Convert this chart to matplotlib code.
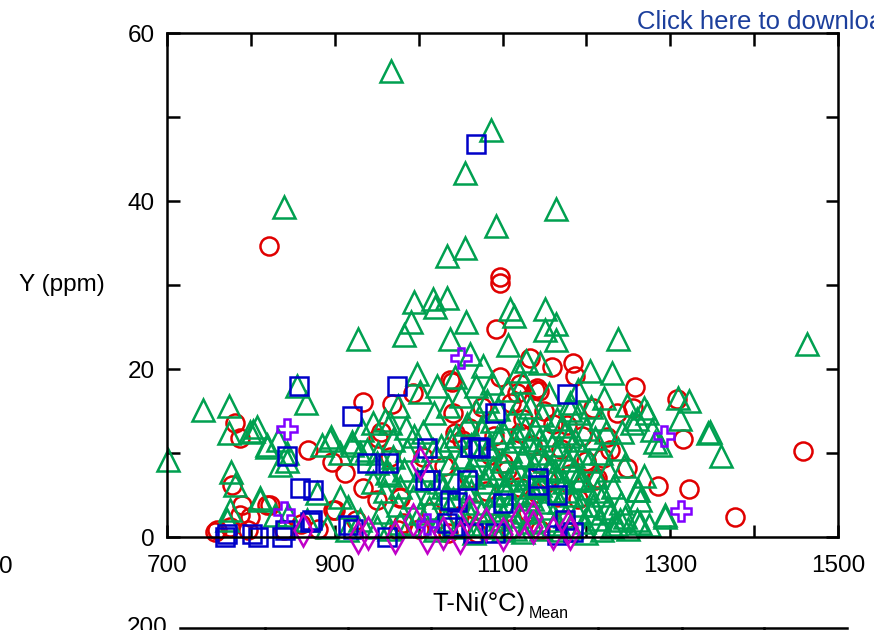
import matplotlib
matplotlib.use("Agg")
import matplotlib.pyplot as plt
from matplotlib.lines import Line2D
import numpy as np

plt.rcParams['font.family'] = ['Liberation Sans', 'DejaVu Sans']

# ---------------- data ----------------
green_x = [967, 1086, 1055, 839, 1164, 1092, 1055, 1034, 995, 1017, 1034, 1020, 1109, 1114, 1151,
           991, 1056, 1164, 1238, 928, 983, 1463, 1037, 743, 774, 701, 855, 866, 1360, 1345, 1309,
           1272, 1282, 1347, 1262, 1294, 1264, 1254,
           774, 807, 803, 832, 819, 843, 895, 906, 885, 920, 938, 946, 966, 776, 781, 811, 775, 771,
           799, 819, 843, 835, 894, 920, 930, 950, 962, 811, 829, 844, 867, 879, 906, 916, 946, 966,
           978, 993, 1014, 1029, 1017, 1037, 986, 969, 930, 950, 891, 915, 978, 1002, 1022,
           1061, 1077, 1118, 1145, 1204, 1230, 1164, 1107, 1043, 1068, 1087, 1022, 998, 1002, 976,
           960, 932, 1221, 1249, 1269, 1260, 1243, 1278, 1216, 1180, 1288, 1312, 1322, 1269, 1260,
           1264, 1246, 1260, 1275, 1294,
           1005, 1010, 1012, 1018, 1024, 1027, 1031, 1035, 1038, 1041, 1044, 1047, 1050, 1052, 1055,
           1058, 1060, 1063, 1065, 1068, 1070, 1072, 1075, 1077, 1079, 1081, 1083, 1085, 1087, 1089,
           1091, 1093, 1095, 1097, 1099, 1101, 1103, 1105, 1107, 1109, 1111, 1113, 1115, 1117, 1119,
           1121, 1123, 1125, 1127, 1129, 1131, 1133, 1135, 1137, 1139, 1141, 1143, 1145, 1147, 1149,
           1151, 1153, 1155, 1157, 1159, 1161, 1163, 1165, 1167, 1169, 1171, 1173, 1175, 1177, 1179,
           1181, 1183, 1185, 1187, 1189, 1191, 1193, 1195, 1197, 1199, 1201, 1203, 1206, 1208, 1210,
           1212, 1215, 1218, 1220, 1223, 1226, 1229, 1232, 1235, 1238, 1241, 1245, 1250,
           1020, 1030, 1045, 1053, 1062, 1066, 1074, 1082, 1088, 1094, 1100, 1106, 1112, 1118, 1124,
           1128, 1134, 1140, 1146, 1152, 1158, 1164, 1170, 1176, 1182, 1188, 1194, 1200, 1206, 1213,
           1219, 1225, 1230, 1240,
           955, 960, 965, 970, 975, 982, 988, 994, 998, 985, 952, 1125, 1151, 1128, 1190,
           1064, 1084, 1104, 1124, 1144, 1164, 1184, 1074, 1094, 1114, 1134, 1154, 1174, 1194]
green_y = [55.5, 48.4, 43.3, 39.3, 39.0, 37.0, 34.4, 33.4, 28.0, 28.3, 28.5, 27.4, 27.2, 26.3, 27.2,
           25.6, 25.6, 25.3, 23.6, 23.6, 24.1, 23.0, 23.6, 15.1, 15.6, 9.2, 18.0, 15.9, 9.7, 12.4, 16.5,
           14.8, 11.3, 12.5, 5.6, 2.6, 1.7, 13.6,
           12.4, 13.1, 12.6, 11.5, 11.0, 9.0, 11.9, 10.0, 11.0, 11.3, 10.4, 13.6, 13.6, 7.7, 6.2, 4.6, 3.2, 2.0,
           12.5, 10.7, 10.0, 8.6, 11.5, 11.0, 10.0, 8.8, 7.6, 4.4, 2.6, 2.6, 2.0, 5.2, 4.8, 3.6, 6.5, 7.4,
           6.0, 4.8, 5.2, 6.0, 10.4, 11.5, 10.4, 9.5, 2.0, 1.2, 1.2, 0.8, 1.7, 2.9, 1.2,
           21.8, 20.4, 19.8, 20.7, 19.8, 19.5, 23.4, 22.8, 19.0, 18.0, 18.3, 18.0, 19.4, 17.3, 15.6,
           13.9, 12.7, 16.5, 15.7, 15.4, 14.0, 12.5, 12.7, 14.0, 15.1, 11.0, 14.0, 16.2, 7.3, 5.6,
           4.4, 2.4, 2.0, 1.4, 2.4,
           12.5, 8.0, 3.5, 14.8, 6.5, 10.8, 2.0, 15.6, 8.8, 4.5, 12.0, 1.2, 16.8, 9.5, 5.8,
           13.5, 2.8, 11.0, 7.2, 15.0, 4.0, 9.8, 12.8, 1.5, 6.5, 16.2, 10.5, 3.2, 13.8, 8.2,
           5.0, 11.8, 15.2, 2.2, 9.0, 12.5, 6.0, 17.5, 3.8, 10.2, 14.2, 7.5, 1.0, 12.0, 5.2,
           16.0, 9.5, 3.0, 13.0, 7.0, 11.2, 15.5, 4.5, 8.5, 12.8, 2.0, 10.0, 6.2, 14.5, 3.5,
           9.0, 12.2, 17.0, 5.5, 11.0, 1.5, 7.8, 14.0, 4.2, 10.5, 13.2, 6.5, 2.5, 9.2, 12.0,
           16.0, 5.0, 8.0, 11.5, 3.0, 14.8, 7.0, 10.0, 1.8, 12.8, 5.8, 9.0, 15.5, 3.8, 11.8,
           7.2, 2.2, 10.0, 5.0, 12.5, 8.0, 3.0, 6.0, 1.5, 10.5, 4.0, 8.5, 1.0,
           0.8, 4.8, 7.0, 1.5, 5.5, 0.5, 3.0, 7.5, 1.2, 4.0, 0.8, 6.8, 2.5, 8.0, 0.6,
           5.0, 1.8, 6.0, 1.0, 4.2, 8.2, 2.0, 0.8, 5.5, 1.2, 6.8, 3.8, 0.5, 2.8, 5.5,
           0.8, 3.5, 1.2, 2.0,
           3.0, 5.5, 1.0, 11.5, 3.8, 8.0, 1.5, 12.0, 6.8, 13.0, 10.0, 18.5, 24.6, 21.0, 17.5,
           8.6, 10.8, 5.2, 9.8, 11.6, 7.0, 9.6, 13.0, 7.4, 11.4, 6.0, 8.0, 12.4, 6.8]

red_x = [822, 1097, 1097, 1092, 1133, 1037, 1040, 1184, 1186, 1258, 1308, 1315, 1285, 1322, 1377,
         1458, 781, 787, 934, 993, 968, 777, 789, 823, 868, 897, 912, 934, 900, 950, 978, 966, 975,
         757, 775, 799, 760, 797, 787, 819, 898, 952, 955,
         1141, 1144, 1117, 1097, 1208, 1237, 1256, 1041, 1052, 1085, 1142, 1213, 1165, 1141, 1105,
         1228, 1069, 978, 981, 1159, 1248, 1220, 1210, 1225, 1100, 1153, 1121, 1177, 1043,
         1060, 1075, 1090, 1110, 1125, 1135, 1150, 1160, 1170, 1180, 1195, 1200, 1190, 1175, 1120,
         1130, 1080, 1060, 1048, 1030, 1015, 1005, 1110, 1145, 1095, 1070, 1035, 1000, 925, 880,
         860, 840, 1121, 1139]
red_y = [34.6, 31.0, 30.2, 24.8, 21.3, 18.7, 18.5, 20.7, 19.2, 17.9, 16.4, 11.7, 6.1, 5.7, 2.4,
         10.2, 13.6, 11.8, 16.1, 17.1, 15.8, 6.2, 3.8, 3.8, 10.4, 8.9, 7.6, 5.8, 3.2, 4.4, 4.6, 9.5, 0.8,
         0.6, 1.2, 2.4, 0.8, 0.8, 2.6, 3.8, 3.2, 11.8, 12.5,
         17.7, 17.4, 17.1, 19.0, 15.4, 14.8, 15.4, 14.8, 11.5, 9.8, 8.8, 7.0, 4.8, 5.2, 8.0,
         10.4, 3.2, 4.8, 1.7, 20.2, 8.2, 9.4, 6.8, 11.9, 8.8, 6.8, 12.4, 13.3, 12.4,
         13.0, 15.5, 12.0, 16.0, 14.0, 11.0, 15.0, 13.5, 10.5, 7.5, 12.0, 9.0, 4.5, 2.0, 6.0,
         3.0, 5.5, 7.0, 2.5, 8.5, 3.0, 9.5, 1.0, 0.8, 1.8, 0.5, 0.5, 1.0, 2.0, 1.0,
         1.5, 0.8, 18.2, 17.5]

blue_x = [1068, 857, 974, 920, 1177, 843, 859, 874, 873, 771, 801, 841, 916, 922, 963, 1010, 1008,
          1037, 1041, 1073, 1046, 1101, 1142, 1184, 1165, 1065, 1091, 1091, 1071, 1014, 1058, 1142,
          1165, 769, 808, 837, 870, 962, 1034, 938, 1061, 1175]
blue_y = [46.8, 18.0, 18.0, 14.4, 17.0, 9.6, 5.8, 5.6, 2.0, 0.3, 0.3, 0.8, 1.4, 1.0, 8.8, 10.6, 6.8,
          4.4, 1.2, 10.6, 4.2, 4.0, 6.2, 0.6, 0.2, 0.5, 0.5, 14.8, 10.7, 6.8, 6.8, 7.0,
          5.0, 0.0, 0.0, 0.0, 1.8, 0.0, 1.7, 8.8, 10.7, 2.0]

violet_x = [1050, 843, 1293, 1313, 840, 1010]
violet_y = [21.3, 12.9, 12.0, 3.1, 3.0, 1.5]

magenta_x = [928, 972, 1010, 1136, 1049, 1029, 1180, 1136, 1178, 1002, 993, 862, 1080, 1100,
             1120, 1160, 1060, 940]
magenta_y = [0.0, 0.0, 0.0, 1.2, 0.0, 0.5, 0.5, 2.4, 1.2, 8.8, 2.0, 0.8, 1.5, 0.3,
             2.0, 0.5, 3.0, 0.5]

x_ticks = [700, 800, 900, 1000, 1100, 1200, 1300, 1400, 1500]
x_labels = ['700', '', '900', '', '1100', '', '1300', '', '1500']
y_ticks = [0, 10, 20, 30, 40, 50, 60]
y_labels = ['0', '', '20', '', '40', '', '60']

# ---------------- figure ----------------
W, H = 874, 630
fig = plt.figure(figsize=(W / 100, H / 100), dpi=100)
ax = fig.add_axes([167 / W, 1 - 537 / H, (838 - 167) / W, (537 - 33) / H])

lw = 1.8
ax.plot(red_x, red_y, 'o', ms=13, mfc='none', mec='#e00000', mew=lw, ls='none', clip_on=False)
ax.plot(green_x, green_y, '^', ms=16, mfc='none', mec='#00a050', mew=lw, ls='none', clip_on=False)
ax.plot(blue_x, blue_y, 's', ms=13.5, mfc='none', mec='#0000c8', mew=lw, ls='none', clip_on=False)
ax.plot(magenta_x, magenta_y, 'd', ms=16, mfc='none', mec='#c000c8', mew=lw, ls='none', clip_on=False)
ax.plot(violet_x, violet_y, 'P', ms=14, mfc='none', mec='#8000ff', mew=lw, ls='none', clip_on=False)

ax.set_xlim(700, 1500)
ax.set_ylim(0, 60)
ax.set_xticks(x_ticks)
ax.set_xticklabels(x_labels)
ax.set_yticks(y_ticks)
ax.set_yticklabels(y_labels)
ax.tick_params(direction='in', length=9, width=1.8, top=True, right=True,
               labelsize=17.5, colors='black')
ax.tick_params(axis='x', pad=13)
ax.tick_params(axis='y', pad=9)
for s in ax.spines.values():
    s.set_linewidth(1.8)
    s.set_color('black')

fig.text(62 / W, 1 - 285 / H, 'Y (ppm)', fontsize=17.5, ha='center', va='center')
fig.text(432 / W, 1 - 604 / H, 'T-Ni(°C)', fontsize=18.5, ha='left', va='center')
fig.text(529 / W, 1 - 614 / H, 'Mean', fontsize=11.5, ha='left', va='center')

fig.text(637 / W, 1 - 22 / H, 'Click here to download', fontsize=18.5, color='#1c3f9c',
         ha='left', va='center')
fig.text(6 / W, 1 - 567 / H, '0', fontsize=17.5, ha='center', va='center')
fig.text(167 / W, 1 - 617 / H, '200', fontsize=17.5, ha='right', va='top')

# top edge of the panel below
fig.add_artist(Line2D([180 / W, 847 / W], [1 - 628 / H, 1 - 628 / H], color='black', lw=1.8))
for px in [265, 348, 431, 514, 598, 682, 764]:
    fig.add_artist(Line2D([px / W, px / W], [1 - 628 / H, 1 - 640 / H], color='black', lw=1.8))

fig.savefig('out.png', dpi=100)
